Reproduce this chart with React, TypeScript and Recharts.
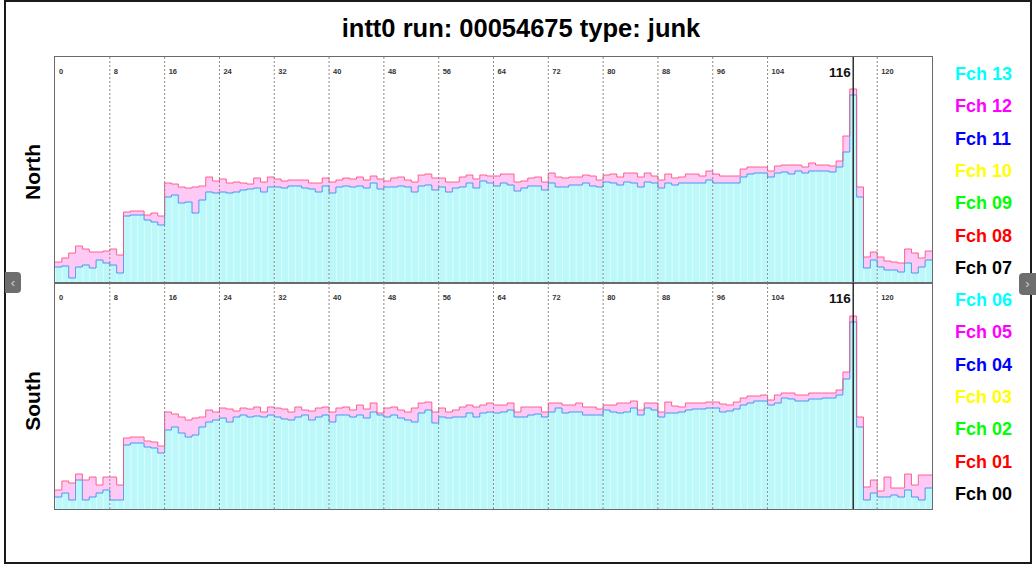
import { ComposedChart, Area, Line, XAxis, YAxis, ReferenceLine } from 'recharts';

// 128 channels per panel, hits per channel (upper / lower envelope over FEE channels).
const NBINS = 128;

const NORTH_HI = [
  21, 25, 30, 37, 34, 31, 31, 32, 34, 28,
  71, 72, 72, 68, 70, 67,
  100, 99, 96, 95, 96, 97, 106, 102, 104, 100, 101, 100, 99, 105, 101, 106, 104, 102, 103, 103, 103, 100, 100, 105,
  101, 103, 105, 104, 106, 103, 107, 104, 102, 105, 106, 103, 101, 108, 109, 105, 105, 101, 101, 106,
  108, 104, 108, 107, 107, 109, 109, 101, 102, 105, 106, 101, 110, 106, 105, 106, 106, 108, 107, 103,
  108, 109, 106, 110, 110, 106, 110, 107, 103, 109, 105, 106, 109, 109, 107, 112,
  109, 107, 107, 107, 114, 116, 116, 116, 112, 117, 118, 118, 118, 116, 120, 118, 118, 117, 122, 147,
  194, 96, 26, 31, 26, 22, 21, 20, 34, 30, 25, 32,
];
const NORTH_LO = [
  16, 17, 5, 16, 18, 15, 23, 20, 18, 10,
  67, 68, 68, 63, 61, 58,
  86, 88, 80, 81, 70, 83, 91, 90, 91, 90, 91, 93, 94, 95, 91, 96, 96, 95, 97, 97, 95, 94, 91, 97,
  90, 96, 97, 96, 97, 95, 100, 94, 96, 96, 97, 96, 91, 97, 98, 93, 96, 91, 95, 96,
  100, 95, 102, 100, 97, 100, 98, 92, 95, 97, 97, 93, 100, 96, 96, 98, 98, 100, 97, 96,
  101, 100, 98, 101, 100, 96, 101, 100, 95, 100, 98, 100, 100, 100, 100, 103,
  100, 100, 100, 100, 106, 109, 110, 110, 106, 110, 111, 109, 112, 110, 112, 112, 112, 111, 116, 131,
  188, 86, 15, 23, 16, 13, 13, 11, 20, 10, 16, 23,
];

const SOUTH_HI = [
  19, 28, 26, 35, 29, 32, 24, 32, 32, 24,
  71, 72, 72, 68, 67, 63,
  97, 95, 92, 89, 91, 92, 99, 97, 101, 100, 98, 101, 100, 102, 97, 102, 101, 100, 97, 102, 99, 98, 101, 102,
  97, 101, 102, 99, 104, 100, 106, 96, 101, 102, 99, 97, 101, 106, 107, 97, 101, 97, 99, 102,
  104, 102, 104, 106, 104, 104, 106, 97, 102, 102, 102, 97, 106, 106, 104, 104, 106, 102, 102, 100,
  104, 104, 106, 106, 108, 99, 106, 106, 97, 107, 103, 102, 106, 106, 106, 107,
  107, 105, 104, 107, 111, 113, 113, 114, 109, 114, 116, 116, 114, 114, 116, 116, 116, 116, 119, 137,
  193, 92, 22, 29, 18, 32, 21, 21, 35, 24, 34, 34,
];
const SOUTH_LO = [
  12, 16, 9, 29, 9, 12, 16, 19, 9, 9,
  64, 66, 66, 62, 61, 56,
  79, 82, 76, 72, 74, 82, 87, 89, 91, 87, 92, 94, 92, 93, 92, 94, 92, 90, 89, 92, 94, 89, 92, 94,
  87, 94, 94, 92, 94, 91, 97, 94, 92, 94, 91, 89, 87, 96, 99, 86, 92, 91, 92, 92,
  96, 92, 96, 97, 96, 97, 99, 92, 92, 94, 95, 92, 97, 101, 96, 97, 97, 94, 94, 94,
  99, 97, 96, 97, 101, 94, 101, 99, 92, 96, 96, 97, 99, 100, 100, 101,
  101, 97, 98, 100, 104, 106, 108, 108, 104, 106, 111, 110, 108, 108, 110, 110, 111, 111, 114, 130,
  187, 82, 9, 16, 12, 12, 14, 12, 19, 12, 9, 21,
];

const GRID_BINS = [8, 16, 24, 32, 40, 48, 56, 64, 72, 80, 88, 96, 104, 120];
const MARK_BIN = 116;

const FCH_LABELS = ['Fch 13', 'Fch 12', 'Fch 11', 'Fch 10', 'Fch 09', 'Fch 08', 'Fch 07',
  'Fch 06', 'Fch 05', 'Fch 04', 'Fch 03', 'Fch 02', 'Fch 01', 'Fch 00'];
const FCH_COLORS = ['#00ffff', '#ff00ff', '#0000ff', '#ffff00', '#00ff00', '#ff0000', '#000000',
  '#00ffff', '#ff00ff', '#0000ff', '#ffff00', '#00ff00', '#ff0000', '#000000'];

const FONT = '"Liberation Sans", Arial, Helvetica, sans-serif';
const PLOT_W = 877;
const PLOT_H = 226;
const Y_MAX = 226;

const binLabel = (text: string) => (props: any) => {
  const vb = props.viewBox || { x: 0, y: 0 };
  return (
    <text x={vb.x + 4} y={vb.y + 17} fontSize={7.5} fontWeight="bold" fill="#333" fontFamily={FONT}>
      {text}
    </text>
  );
};

const markLabel = (text: string) => (props: any) => {
  const vb = props.viewBox || { x: 0, y: 0 };
  return (
    <text x={vb.x - 2.5} y={vb.y + 20} fontSize={13.5} fontWeight="bold" fill="#111" textAnchor="end" fontFamily={FONT}>
      {text}
    </text>
  );
};

function Panel({ hi, lo, top, id }: { hi: number[]; lo: number[]; top: number; id: string }) {
  const rows: any[] = hi.map((h, i) => ({ bin: i, hi: h, lo: lo[i], band: [lo[i], h] }));
  // extra edge point so the last bin gets its full width with step curves
  rows.push({ ...rows[rows.length - 1], bin: NBINS });
  const binW = PLOT_W / NBINS;
  return (
    <div style={{ position: 'absolute', left: 55, top, width: PLOT_W, height: PLOT_H, outline: '1px solid #6a6a6a' }}>
      <ComposedChart width={PLOT_W} height={PLOT_H} data={rows} margin={{ top: 0, right: 0, bottom: 0, left: 0 }}>
        <defs>
          <pattern id={`bins-${id}`} patternUnits="userSpaceOnUse" width={binW} height={PLOT_H}>
            <rect x={0} y={0} width={binW} height={PLOT_H} fill="#bcf8f9" />
            <rect x={0} y={0} width={1} height={PLOT_H} fill="#dafdfd" />
          </pattern>
        </defs>
        <XAxis type="number" dataKey="bin" domain={[0, NBINS]} hide allowDataOverflow />
        <YAxis type="number" domain={[0, Y_MAX]} hide allowDataOverflow />
        <Area type="stepAfter" dataKey="lo" fill={`url(#bins-${id})`} fillOpacity={1} stroke="#6fe3ec" strokeWidth={1} isAnimationActive={false} />
        <Area type="stepAfter" dataKey="band" fill="#ff88ea" fillOpacity={0.45} stroke="none" isAnimationActive={false} />
        <Line type="stepAfter" dataKey="lo" stroke="#3a72ff" strokeOpacity={0.55} strokeWidth={1} dot={false} isAnimationActive={false} />
        <Line type="stepAfter" dataKey="hi" stroke="#ff4a7a" strokeOpacity={0.85} strokeWidth={1} dot={false} isAnimationActive={false} />
        <ReferenceLine x={0} stroke="none" label={binLabel('0')} />
        {GRID_BINS.map((b) => (
          <ReferenceLine key={b} x={b} stroke="#8a8a8a" strokeDasharray="2 2" label={binLabel(String(b))} />
        ))}
        <ReferenceLine x={MARK_BIN + 0.5} stroke="#111" strokeWidth={1.3} label={markLabel(String(MARK_BIN))} />
      </ComposedChart>
    </div>
  );
}

export default function App() {
  return (
    <div style={{ position: 'fixed', left: 0, top: 0, width: 1036, height: 566, background: '#fff', overflow: 'hidden' }}>
      <div style={{ position: 'absolute', left: 4, top: 0, width: 1028, height: 564, border: '2px solid #1a1a1a', boxSizing: 'border-box' }} />
      <Panel hi={NORTH_HI} lo={NORTH_LO} top={57} id="n" />
      <Panel hi={SOUTH_HI} lo={SOUTH_LO} top={283} id="s" />
      <svg width={1036} height={566} style={{ position: 'absolute', left: 0, top: 0, pointerEvents: 'none' }}>
        <text x={521} y={37} textAnchor="middle" fontSize={25.5} fontWeight="bold" fill="#000" fontFamily={FONT}>
          intt0 run: 00054675 type: junk
        </text>
        <text x={40} y={172} transform="rotate(-90 40 172)" textAnchor="middle" fontSize={21} fontWeight="bold" fontFamily={FONT}>North</text>
        <text x={40} y={401} transform="rotate(-90 40 401)" textAnchor="middle" fontSize={21} fontWeight="bold" fontFamily={FONT}>South</text>
        {FCH_LABELS.map((l, i) => (
          <text key={l} x={955} y={80 + i * 32.3} fontSize={18} fontWeight="bold" fill={FCH_COLORS[i]} fontFamily={FONT}>
            {l}
          </text>
        ))}
      </svg>
      <div style={{ position: 'absolute', left: 5, top: 272, width: 16, height: 21, background: '#6e6e6e', borderRadius: '0 4px 4px 0', color: '#cfcfcf', fontSize: 13, lineHeight: '21px', textAlign: 'center', fontFamily: FONT }}>‹</div>
      <div style={{ position: 'absolute', left: 1019, top: 273, width: 17, height: 22, background: '#6e6e6e', borderRadius: '4px 0 0 4px', color: '#cfcfcf', fontSize: 13, lineHeight: '22px', textAlign: 'center', fontFamily: FONT }}>›</div>
    </div>
  );
}
